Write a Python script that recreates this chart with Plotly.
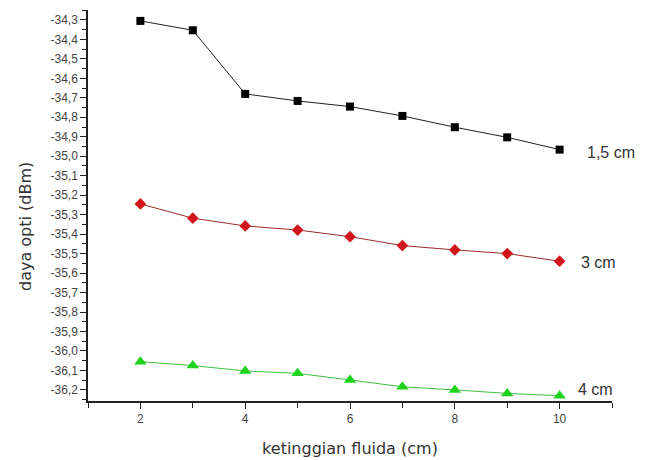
import plotly.graph_objects as go

x_vals = [2, 3, 4, 5, 6, 7, 8, 9, 10]
y_15cm = [-34.305, -34.353, -34.680, -34.716, -34.745, -34.793, -34.851, -34.903, -34.966]
y_3cm = [-35.245, -35.318, -35.358, -35.379, -35.413, -35.459, -35.481, -35.500, -35.539]
y_4cm = [-36.055, -36.075, -36.103, -36.115, -36.149, -36.184, -36.200, -36.218, -36.230]
series_labels = ["1,5 cm", "3 cm", "4 cm"]

y_tick_vals = [round(-34.3 - 0.1 * i, 1) for i in range(20)]
y_tick_labels = ["-34,3", "-34,4", "-34,5", "-34,6", "-34,7", "-34,8", "-34,9", "-35,0",
                 "-35,1", "-35,2", "-35,3", "-35,4", "-35,5", "-35,6", "-35,7", "-35,8",
                 "-35,9", "-36,0", "-36,1", "-36,2"]
x_tick_vals = [2, 4, 6, 8, 10]

# label pixel offsets (styling)
label_shifts = [(25, -3), (19, -1), (16, 6)]

fig = go.Figure()
fig.add_trace(go.Scatter(x=x_vals, y=y_15cm, mode="lines+markers", name=series_labels[0],
                         line=dict(color="#222222", width=1),
                         marker=dict(symbol="square", size=8, color="#000000")))
fig.add_trace(go.Scatter(x=x_vals, y=y_3cm, mode="lines+markers", name=series_labels[1],
                         line=dict(color="#9a2a2a", width=1),
                         marker=dict(symbol="diamond", size=9, color="#d0161c")))
fig.add_trace(go.Scatter(x=x_vals, y=y_4cm, mode="lines+markers", name=series_labels[2],
                         line=dict(color="#3fbf3f", width=1),
                         marker=dict(symbol="triangle-up", size=11, color="#1ed21e")))

for lab, ys, (dx, dy) in zip(series_labels, [y_15cm, y_3cm, y_4cm], label_shifts):
    fig.add_annotation(x=x_vals[-1], y=ys[-1], text=lab, showarrow=False,
                       xanchor="left", xshift=dx, yshift=dy,
                       font=dict(family="Liberation Sans, Arial", size=16, color="#333333"))

fig.add_annotation(text="daya opti (dBm)", textangle=-90, showarrow=False,
                   xref="paper", yref="paper", x=(17 - 80) / 524, y=(393 - 219) / 391,
                   xanchor="center", yanchor="middle",
                   font=dict(family="DejaVu Sans, Liberation Sans", size=16, color="#333333"))

fig.update_layout(
    width=646, height=452,
    margin=dict(l=80, r=42, t=2, b=59),
    paper_bgcolor="white", plot_bgcolor="white",
    showlegend=False,
    font=dict(family="Liberation Sans, Arial", size=12, color="#333333"),
)
fig.update_xaxes(
    range=[1, 11], tickmode="array", tickvals=x_tick_vals, automargin=False,
    showgrid=False, zeroline=False, showline=True, linecolor="#222222", linewidth=1.5,
    ticks="outside", ticklen=6, tickcolor="#222222", tickwidth=1,
    minor=dict(tickmode="linear", tick0=1, dtick=1, ticks="outside", ticklen=5, tickcolor="#222222"),
    title=dict(text="ketinggian fluida (cm)",
               font=dict(family="DejaVu Sans, Liberation Sans", size=16, color="#333333"), standoff=18),
    tickfont=dict(size=12, color="#444444"),
)
fig.update_yaxes(
    range=[-36.257, -34.249], tickmode="array", tickvals=y_tick_vals, ticktext=y_tick_labels,
    automargin=False,
    showgrid=False, zeroline=False, showline=True, linecolor="#222222", linewidth=1.5,
    ticks="outside", ticklen=6, tickcolor="#222222", tickwidth=1,
    minor=dict(tickmode="linear", tick0=-34.25, dtick=0.1, ticks="outside", ticklen=4, tickcolor="#222222"),
    tickfont=dict(size=12, color="#444444"),
)

fig.write_html("out.html")
